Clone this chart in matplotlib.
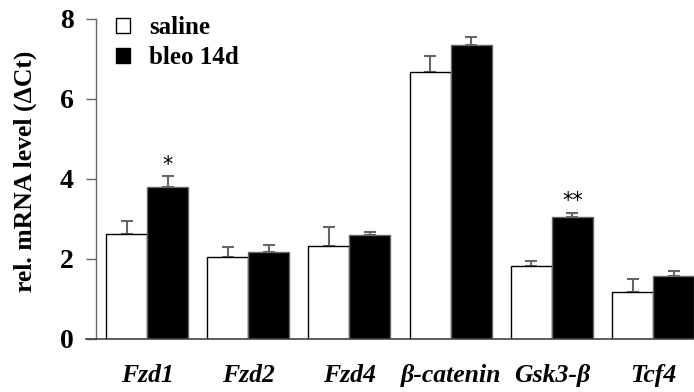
import matplotlib.pyplot as plt
from matplotlib.patches import Patch
import numpy as np

genes = ["Fzd1", "Fzd2", "Fzd4", "\u03b2-catenin", "Gsk3-\u03b2", "Tcf4"]
saline = [2.62, 2.05, 2.33, 6.67, 1.83, 1.17]
saline_err = [0.33, 0.26, 0.46, 0.40, 0.11, 0.34]
bleo = [3.81, 2.18, 2.59, 7.36, 3.05, 1.58]
bleo_err = [0.26, 0.18, 0.09, 0.20, 0.11, 0.12]
stars = ["*", "", "", "", "**", ""]

plt.rcParams['font.family'] = ['Liberation Serif', 'DejaVu Serif']
plt.rcParams['font.weight'] = 'bold'

fig = plt.figure(figsize=(6.94, 3.92), dpi=100)
ax = fig.add_axes([86/694, 53/392, 1 - 86/694, 320/392])

x = np.arange(len(genes))
w = 0.405
ax.bar(x - w/2, saline, w, color='white', edgecolor='black', linewidth=1.0, zorder=2)
ax.bar(x + w/2, bleo, w, color='black', edgecolor='#666666', linewidth=1.0, zorder=2)
ax.errorbar(x - w/2, saline, yerr=[np.zeros(6), saline_err], fmt='none',
            ecolor='#666666', elinewidth=1.5, capsize=4.5, capthick=1.5, zorder=1)
ax.errorbar(x + w/2, bleo, yerr=[np.zeros(6), bleo_err], fmt='none',
            ecolor='#666666', elinewidth=1.5, capsize=4.5, capthick=1.5, zorder=1)

for i, s in enumerate(stars):
    if s:
        ax.text(x[i] + w/2, bleo[i] + bleo_err[i] + 0.03, s, ha='center', va='bottom',
                fontsize=15, fontweight='normal', family='DejaVu Sans')

ax.set_xlim(-0.603, 5.405)
ax.set_ylim(0, 8)
ax.spines['top'].set_visible(False)
ax.spines['right'].set_visible(False)
ax.spines['left'].set_position(('data', -0.504))
ax.spines['left'].set_color('#666666')
ax.spines['bottom'].set_color('#444444')
ax.spines['left'].set_linewidth(1.0)
ax.spines['bottom'].set_linewidth(1.2)

ax.set_yticks([0, 2, 4, 6, 8])
ax.tick_params(axis='y', length=7, width=1, color='#666666', pad=9, labelsize=20)
ax.set_xticks(x)
ax.set_xticklabels(genes, style='italic', fontsize=18.5)
ax.tick_params(axis='x', length=0, pad=18)

ax.set_ylabel("rel. mRNA level (\u0394Ct)", fontsize=18.5, fontweight='bold')
ax.yaxis.set_label_coords(-0.081, 0.525)

handles = [Patch(facecolor='white', edgecolor='black', linewidth=1.0),
           Patch(facecolor='black', edgecolor='black')]
ax.legend(handles, ["saline", "bleo 14d"], loc='upper left', frameon=False,
          bbox_to_anchor=(0.013, 1.08), fontsize=18, handlelength=0.55, handleheight=0.55,
          handletextpad=0.75, labelspacing=0.3)

fig.savefig("out.png", dpi=100)
